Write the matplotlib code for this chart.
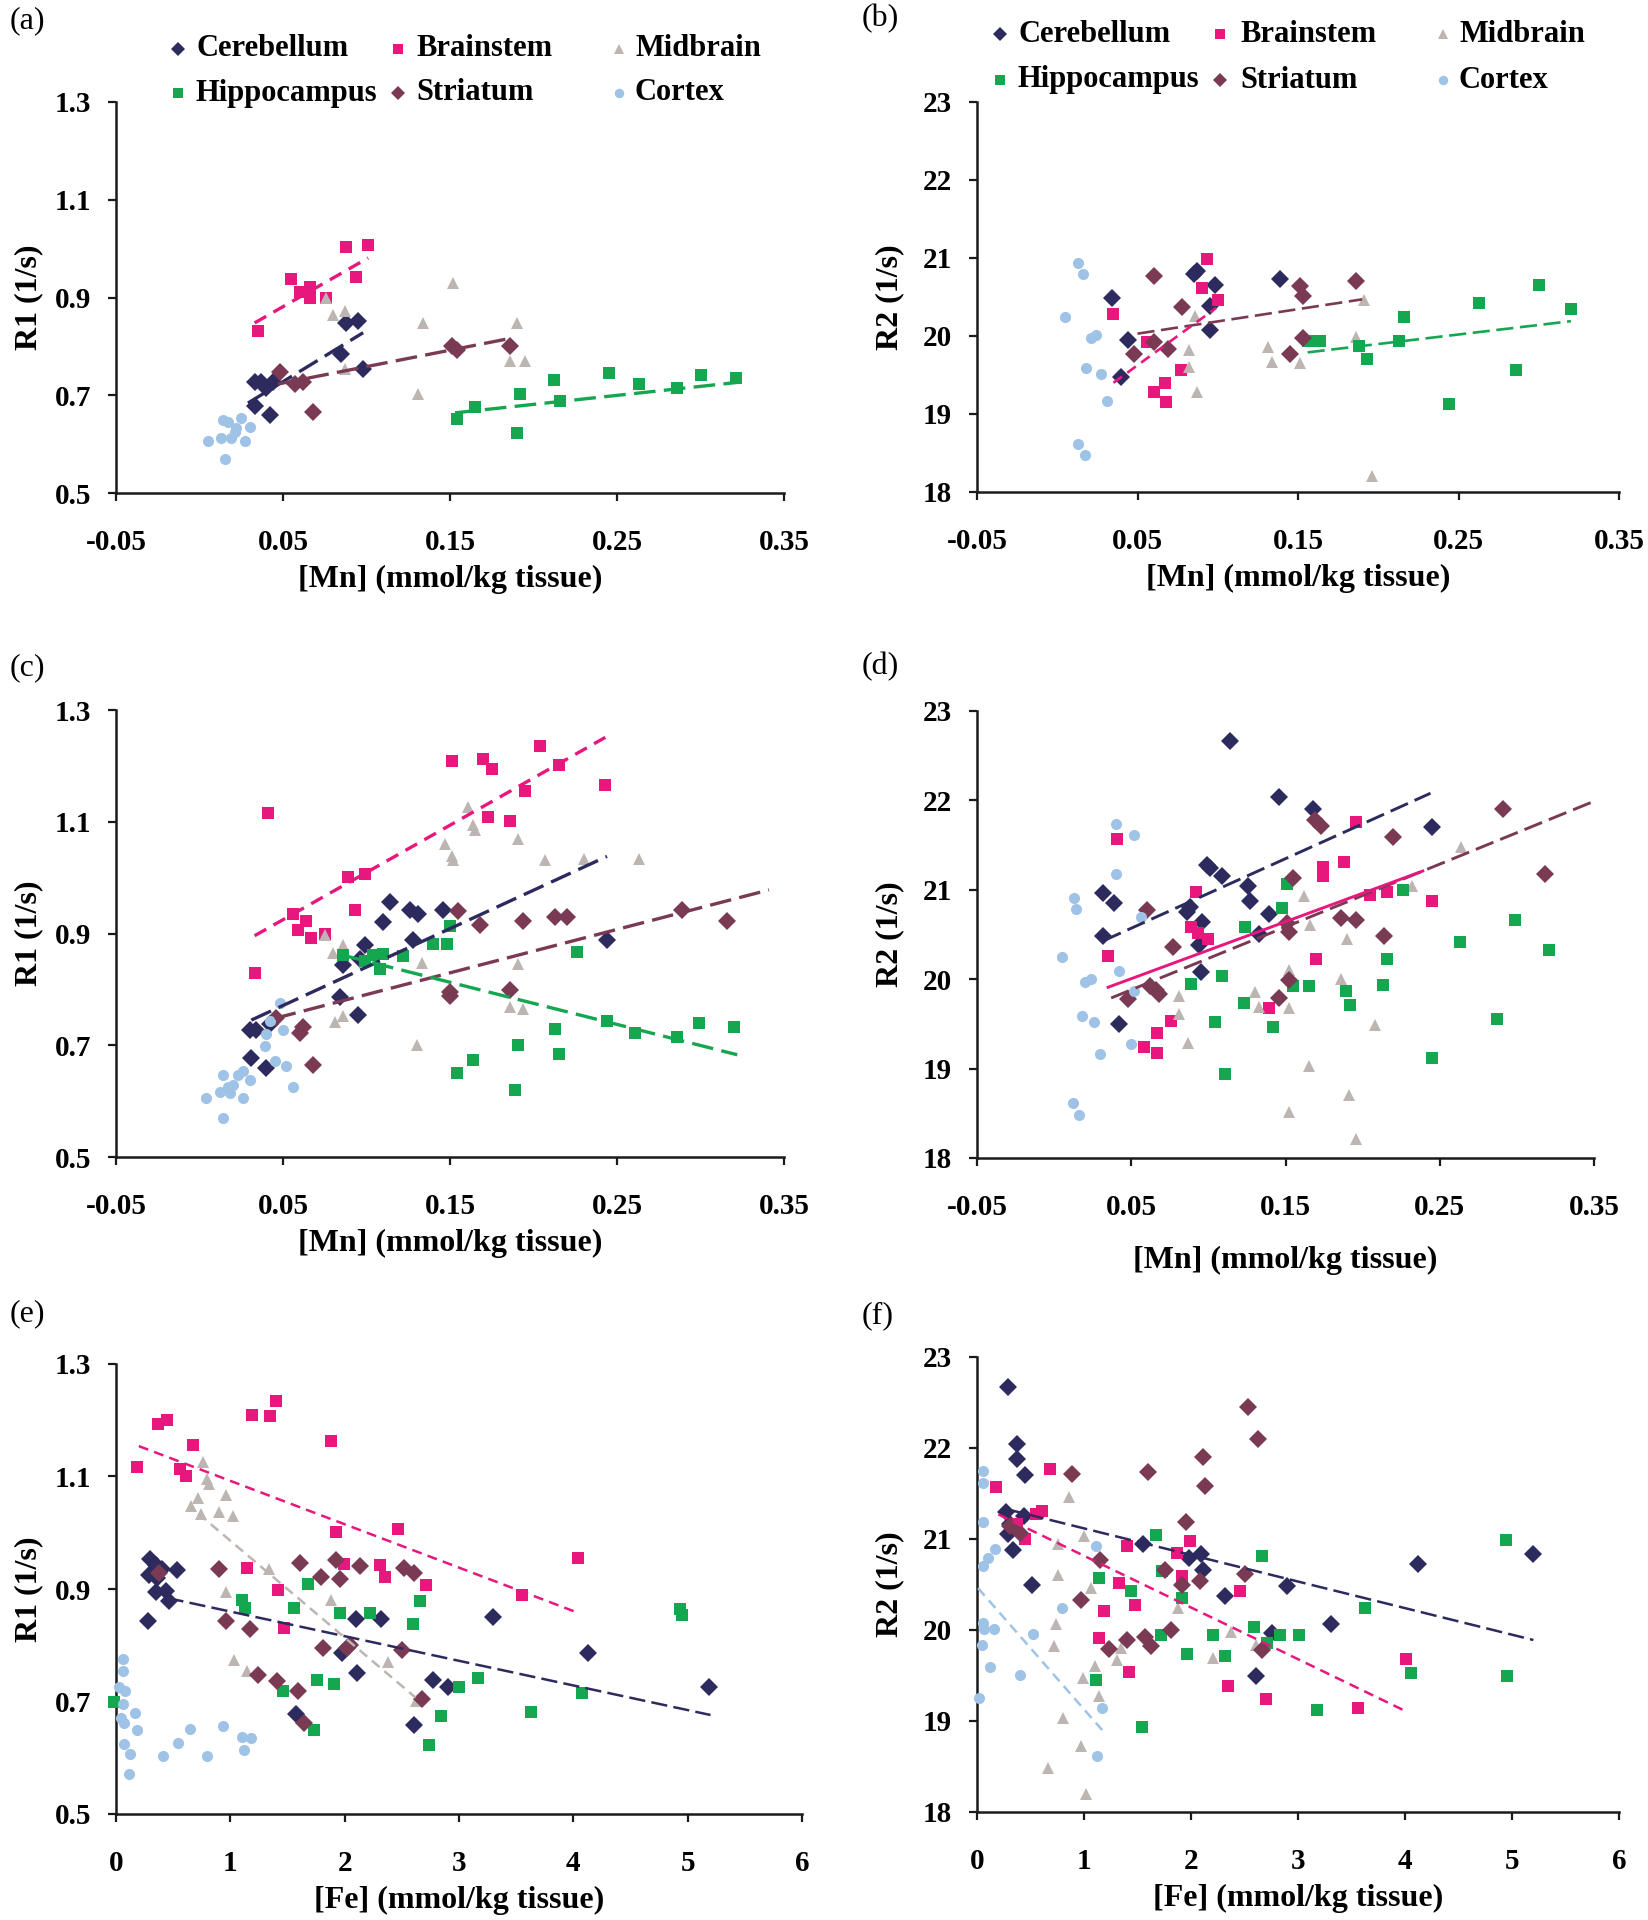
import matplotlib
matplotlib.use("Agg")
import matplotlib.pyplot as plt
from matplotlib.lines import Line2D

plt.rcParams['font.family'] = ['Liberation Serif', 'DejaVu Serif']
plt.rcParams['axes.unicode_minus'] = False

names = ["Cerebellum", "Brainstem", "Midbrain", "Hippocampus", "Striatum", "Cortex"]
colors = ["#2D2A5E", "#E8177E", "#BDB5B2", "#14A750", "#7B3A54", "#9FC3E7"]
markers = ["D", "s", "^", "s", "D", "o"]
msizes = [8.8, 9.2, 9.2, 9.2, 8.8, 8]

mn_ticks = [-0.05, 0.05, 0.15, 0.25, 0.35]
mn_labels = ["-0.05", "0.05", "0.15", "0.25", "0.35"]
fe_ticks = [0, 1, 2, 3, 4, 5, 6]
fe_labels = ["0", "1", "2", "3", "4", "5", "6"]
r1_ticks = [0.5, 0.7, 0.9, 1.1, 1.3]
r1_labels = ["0.5", "0.7", "0.9", "1.1", "1.3"]
r2_ticks = [18, 19, 20, 21, 22, 23]
r2_labels = ["18", "19", "20", "21", "22", "23"]

##### (a) R1 vs Mn #####
a_cer = [(0.033,0.727),(0.037,0.727),(0.044,0.727),(0.040,0.715),(0.033,0.678),(0.042,0.659),
         (0.085,0.785),(0.088,0.848),(0.095,0.852),(0.098,0.754)]
a_bra = [(0.035,0.831),(0.055,0.938),(0.060,0.911),(0.066,0.899),(0.066,0.922),(0.076,0.899),
         (0.088,1.004),(0.101,1.008),(0.094,0.942)]
a_mid = [(0.076,0.899),(0.080,0.864),(0.087,0.873),(0.087,0.754),(0.134,0.848),(0.131,0.703),
         (0.152,0.930),(0.190,0.848),(0.186,0.770),(0.195,0.770)]
a_hip = [(0.154,0.651),(0.165,0.676),(0.190,0.623),(0.192,0.703),(0.212,0.731),(0.216,0.688),
         (0.245,0.746),(0.263,0.723),(0.286,0.715),(0.300,0.742),(0.321,0.735)]
a_str = [(0.048,0.748),(0.057,0.723),(0.062,0.727),(0.068,0.666),(0.151,0.801),(0.154,0.793),(0.186,0.801)]
a_cor = [(0.005,0.606),(0.014,0.649),(0.013,0.613),(0.019,0.613),(0.022,0.633),(0.025,0.653),
         (0.027,0.606),(0.030,0.635),(0.015,0.570),(0.017,0.645),(0.021,0.625)]
a_fits = {"Brainstem": [(0.033,0.848),(0.101,0.981)], "Cerebellum": [(0.029,0.684),(0.098,0.828)],
          "Striatum": [(0.047,0.723),(0.187,0.817)], "Hippocampus": [(0.153,0.664),(0.324,0.727)]}

##### (b) R2 vs Mn #####
b_cer = [(0.044,19.95),(0.040,19.47),(0.034,20.49),(0.085,20.79),(0.087,20.83),(0.098,20.65),
         (0.095,20.38),(0.095,20.08),(0.139,20.73)]
b_bra = [(0.035,20.28),(0.056,19.92),(0.060,19.28),(0.067,19.40),(0.068,19.15),(0.077,19.56),
         (0.090,20.61),(0.093,20.99),(0.100,20.46)]
b_mid = [(0.082,19.60),(0.082,19.82),(0.086,20.26),(0.087,19.28),(0.131,19.86),(0.134,19.67),
         (0.151,19.65),(0.186,19.99),(0.191,20.46),(0.196,18.20)]
b_hip = [(0.156,19.93),(0.164,19.94),(0.188,19.87),(0.193,19.70),(0.213,19.94),(0.216,20.24),
         (0.244,19.13),(0.263,20.42),(0.286,19.56),(0.300,20.66),(0.320,20.35)]
b_str = [(0.048,19.77),(0.060,20.77),(0.060,19.92),(0.069,19.83),(0.078,20.37),(0.145,19.77),
         (0.151,20.64),(0.153,20.51),(0.153,19.98),(0.186,20.71)]
b_cor = [(0.005,20.24),(0.013,20.93),(0.016,20.79),(0.021,19.97),(0.024,20.01),(0.018,19.59),
         (0.027,19.51),(0.031,19.17),(0.013,18.62),(0.017,18.47)]
b_fits = {"Striatum": [(0.050,20.03),(0.190,20.47)], "Brainstem": [(0.035,19.40),(0.099,20.36)],
          "Hippocampus": [(0.156,19.79),(0.320,20.19)]}

##### (c) R1 vs Mn, all doses #####
c_cer = [(0.030,0.727),(0.034,0.727),(0.042,0.738),(0.031,0.678),(0.040,0.659),(0.084,0.787),
         (0.086,0.844),(0.095,0.755),(0.099,0.879),(0.096,0.854),(0.110,0.921),(0.114,0.956),
         (0.126,0.942),(0.131,0.935),(0.128,0.889),(0.146,0.942),(0.244,0.889)]
c_bra = [(0.033,0.829),(0.041,1.115),(0.056,0.935),(0.059,0.907),(0.064,0.923),(0.067,0.892),
         (0.075,0.899),(0.089,1.001),(0.099,1.006),(0.093,0.942),(0.151,1.208),(0.170,1.212),
         (0.175,1.194),(0.173,1.108),(0.186,1.101),(0.195,1.155),(0.204,1.235),(0.215,1.202),(0.243,1.166)]
c_mid = [(0.075,0.897),(0.080,0.865),(0.086,0.879),(0.081,0.741),(0.086,0.752),(0.133,0.847),
         (0.130,0.700),(0.147,1.060),(0.151,1.038),(0.152,1.031),(0.161,1.127),(0.164,1.094),
         (0.165,1.086),(0.191,1.069),(0.191,0.846),(0.186,0.769),(0.194,0.764),(0.207,1.031),
         (0.230,1.034),(0.263,1.034)]
c_hip = [(0.086,0.861),(0.099,0.851),(0.104,0.861),(0.108,0.836),(0.110,0.863),(0.122,0.860),
         (0.140,0.882),(0.148,0.881),(0.150,0.914),(0.226,0.867),(0.154,0.651),(0.164,0.674),
         (0.189,0.620),(0.191,0.701),(0.213,0.729),(0.215,0.685),(0.244,0.743),(0.261,0.722),
         (0.286,0.714),(0.299,0.740),(0.320,0.733)]
c_str = [(0.046,0.748),(0.060,0.722),(0.062,0.733),(0.068,0.664),(0.150,0.796),(0.150,0.789),
         (0.155,0.941),(0.168,0.916),(0.186,0.799),(0.194,0.923),(0.213,0.930),(0.220,0.930),
         (0.289,0.942),(0.316,0.923)]
c_cor = [(0.004,0.605),(0.014,0.646),(0.012,0.616),(0.017,0.625),(0.020,0.628),(0.023,0.646),
         (0.026,0.605),(0.026,0.654),(0.030,0.637),(0.014,0.570),(0.018,0.614),(0.039,0.699),
         (0.040,0.720),(0.042,0.743),(0.048,0.775),(0.050,0.727),(0.045,0.671),(0.052,0.662),(0.056,0.625)]
c_fits = {"Brainstem": [(0.033,0.896),(0.243,1.251)], "Cerebellum": [(0.031,0.745),(0.244,1.038)],
          "Striatum": [(0.045,0.748),(0.341,0.978)], "Hippocampus": [(0.086,0.861),(0.322,0.683)]}

##### (d) R2 vs Mn, all doses #####
d_cer = [(0.114,22.66),(0.146,22.04),(0.168,21.90),(0.245,21.70),(0.032,20.96),(0.039,20.85),
         (0.032,20.48),(0.042,19.50),(0.099,21.28),(0.101,21.24),(0.109,21.15),(0.126,21.04),
         (0.127,20.88),(0.139,20.73),(0.133,20.51),(0.086,20.75),(0.088,20.81),(0.096,20.64),
         (0.094,20.38),(0.095,20.08)]
d_bra = [(0.035,20.26),(0.041,21.57),(0.058,19.24),(0.067,19.40),(0.067,19.17),(0.076,19.53),
         (0.089,20.58),(0.093,20.52),(0.100,20.45),(0.092,20.97),(0.139,19.68),(0.170,20.23),
         (0.174,21.26),(0.174,21.15),(0.188,21.31),(0.196,21.76),(0.205,20.94),(0.216,20.98),(0.245,20.87)]
d_mid = [(0.081,19.81),(0.081,19.61),(0.087,19.29),(0.130,19.86),(0.133,19.69),(0.152,19.68),
         (0.152,20.10),(0.162,20.93),(0.166,20.61),(0.152,18.51),(0.165,19.03),(0.186,20.00),
         (0.190,20.45),(0.191,18.71),(0.196,18.21),(0.208,19.49),(0.232,21.04),(0.264,21.48)]
d_hip = [(0.089,19.95),(0.104,19.52),(0.109,20.04),(0.111,18.94),(0.123,19.73),(0.124,20.58),
         (0.142,19.46),(0.148,20.80),(0.151,21.06),(0.155,19.92),(0.165,19.92),(0.189,19.87),
         (0.192,19.71),(0.213,19.93),(0.216,20.23),(0.226,21.00),(0.245,19.12),(0.263,20.42),
         (0.287,19.55),(0.299,20.66),(0.321,20.33)]
d_str = [(0.060,20.77),(0.077,20.36),(0.048,19.78),(0.062,19.92),(0.066,19.88),(0.068,19.83),
         (0.155,21.13),(0.151,20.63),(0.152,20.53),(0.152,19.99),(0.146,19.79),(0.169,21.78),
         (0.173,21.71),(0.186,20.69),(0.196,20.66),(0.214,20.48),(0.220,21.59),(0.291,21.90),(0.318,21.18)]
d_cor = [(0.005,20.25),(0.013,20.91),(0.014,20.79),(0.020,19.97),(0.024,20.00),(0.018,19.59),
         (0.026,19.52),(0.030,19.16),(0.012,18.62),(0.016,18.48),(0.040,21.74),(0.052,21.61),
         (0.040,21.18),(0.056,20.70),(0.042,20.09),(0.052,19.87),(0.050,19.27)]
d_fits = {"Cerebellum": [(0.032,20.43),(0.244,22.08)], "Striatum": [(0.037,19.79),(0.350,21.99)],
          "Brainstem": [(0.035,19.91),(0.239,21.21)]}

##### (e) R1 vs Fe #####
e_cer = [(0.28,0.843),(0.30,0.954),(0.35,0.943),(0.29,0.925),(0.36,0.920),(0.40,0.936),(0.35,0.894),
         (0.46,0.879),(0.44,0.896),(0.53,0.934),(1.57,0.677),(1.98,0.787),(2.10,0.846),(2.11,0.751),
         (2.32,0.846),(2.61,0.659),(2.77,0.739),(2.90,0.725),(3.30,0.851),(4.13,0.787),(5.19,0.725)]
e_bra = [(0.18,1.116),(0.37,1.194),(0.45,1.201),(0.56,1.114),(0.61,1.100),(0.67,1.156),(1.19,1.209),
         (1.35,1.207),(1.40,1.234),(1.88,1.163),(1.92,1.002),(1.99,0.945),(1.15,0.937),(1.42,0.898),
         (1.47,0.830),(2.31,0.943),(2.35,0.921),(2.47,1.007),(2.71,0.907),(3.55,0.889),(4.04,0.955)]
e_mid = [(0.76,1.125),(0.80,1.096),(0.81,1.086),(0.72,1.061),(0.66,1.048),(0.74,1.034),(0.90,1.037),
         (0.96,1.068),(1.02,1.029),(0.96,0.894),(1.03,0.774),(1.15,0.754),(1.34,0.936),(1.88,0.880),
         (2.38,0.771),(2.62,0.701)]
e_hip = [(-0.02,0.699),(1.10,0.880),(1.13,0.866),(1.46,0.718),(1.56,0.866),(1.68,0.909),(1.73,0.649),
         (1.76,0.738),(1.91,0.732),(1.96,0.857),(2.22,0.857),(2.60,0.837),(2.66,0.879),(2.74,0.623),
         (2.84,0.675),(3.00,0.726),(3.17,0.741),(3.63,0.682),(4.08,0.716),(4.93,0.864),(4.95,0.854)]
e_str = [(0.38,0.929),(0.90,0.936),(0.96,0.843),(1.17,0.829),(1.24,0.748),(1.41,0.736),(1.59,0.718),
         (1.61,0.946),(1.64,0.662),(1.79,0.921),(1.81,0.796),(1.92,0.951),(1.96,0.918),(2.02,0.796),
         (2.05,0.801),(2.13,0.941),(2.52,0.937),(2.50,0.791),(2.61,0.929),(2.68,0.704)]
e_cor = [(0.06,0.775),(0.06,0.754),(0.03,0.725),(0.08,0.718),(0.06,0.696),(0.04,0.671),(0.07,0.661),
         (0.17,0.680),(0.18,0.649),(0.07,0.625),(0.12,0.607),(0.11,0.571),(0.41,0.604),(0.54,0.627),
         (0.65,0.651),(0.80,0.604),(0.94,0.657),(1.10,0.637),(1.18,0.636),(1.12,0.614)]
e_fits = {"Brainstem": [(0.20,1.154),(4.05,0.857)], "Midbrain": [(0.72,1.034),(2.62,0.707)],
          "Cerebellum": [(0.45,0.884),(5.20,0.676)]}

##### (f) R2 vs Fe #####
f_cer = [(0.29,22.67),(0.37,22.04),(0.37,21.88),(0.45,21.70),(0.27,21.30),(0.31,21.16),(0.29,21.05),
         (0.34,20.88),(0.44,21.25),(0.51,20.49),(1.55,20.95),(1.98,20.79),(2.09,20.83),(2.11,20.66),
         (2.32,20.37),(2.61,19.49),(2.76,19.97),(2.90,20.48),(3.31,20.07),(4.12,20.72),(5.20,20.84)]
f_bra = [(0.18,21.57),(0.68,21.77),(0.45,21.00),(0.37,21.16),(0.55,21.27),(0.61,21.31),(1.14,19.91),
         (1.19,20.21),(1.33,20.52),(1.40,20.92),(1.42,19.54),(1.48,20.28),(1.87,20.85),(1.92,20.59),
         (1.99,20.98),(2.46,20.43),(2.35,19.38),(2.70,19.24),(3.56,19.14),(4.01,19.68)]
f_mid = [(0.86,21.46),(1.00,21.03),(0.76,20.94),(0.76,20.60),(1.07,20.46),(0.74,20.07),(0.72,19.82),
         (0.80,19.03),(0.66,18.48),(0.97,18.72),(1.02,18.20),(1.10,19.60),(0.99,19.47),(1.14,19.28),
         (1.31,19.67),(1.35,19.80),(1.88,20.24),(2.21,19.69),(2.37,19.98),(2.61,19.83)]
f_hip = [(1.11,19.45),(1.14,20.57),(1.44,20.43),(1.54,18.93),(1.67,21.04),(1.72,19.94),(1.73,20.65),
         (1.92,20.35),(1.96,19.74),(2.21,19.94),(2.32,19.71),(2.59,20.03),(2.66,20.81),(2.71,19.86),
         (2.83,19.94),(3.01,19.94),(3.18,19.12),(3.63,20.24),(4.06,19.53),(4.94,20.99),(4.95,19.49)]
f_str = [(0.31,21.14),(0.40,21.07),(0.89,21.71),(0.97,20.33),(1.15,20.77),(1.23,19.79),(1.40,19.89),
         (1.57,19.92),(1.60,21.74),(1.63,19.82),(1.76,20.66),(1.81,20.00),(1.92,20.49),(1.95,21.19),
         (2.08,20.54),(2.11,21.90),(2.13,21.58),(2.53,22.45),(2.63,22.10),(2.50,20.62),(2.66,19.78)]
f_cor = [(0.06,21.75),(0.06,21.62),(0.06,21.19),(0.06,20.70),(0.10,20.79),(0.17,20.89),(0.06,20.08),
         (0.07,20.01),(0.05,19.84),(0.16,20.01),(0.12,19.59),(0.02,19.25),(0.40,19.51),(0.52,19.96),
         (0.79,20.24),(1.11,20.92),(1.17,19.14),(1.12,18.61)]
f_fits = {"Cerebellum": [(0.27,21.33),(5.20,19.89)], "Brainstem": [(0.20,21.27),(4.02,19.10)],
          "Cortex": [(0.01,20.46),(1.17,18.90)]}

W, H = 1648, 1920
fig = plt.figure(figsize=(W / 100, H / 100), dpi=100)


def box(l, t, r, b):
    return [l / W, 1 - b / H, (r - l) / W, (b - t) / H]


def panel(rect, groups, fits, xt, xl, yt, yl, xlabel, ylabel, xlabelpad, fit_lw, solid=()):
    ax = fig.add_axes(box(*rect))
    for i, pts in enumerate(groups):
        xs, ys = zip(*pts)
        ax.plot(xs, ys, linestyle="none", marker=markers[i], ms=msizes[i], color=colors[i],
                mew=0, zorder=3, clip_on=False)
    for nm, seg in fits.items():
        i = names.index(nm)
        xs, ys = zip(*seg)
        if nm in solid:
            ax.plot(xs, ys, color=colors[i], lw=fit_lw, zorder=4)
        else:
            dash = (4, 2.5) if nm in ("Brainstem", "Cortex", "Midbrain") else (6.5, 2.5)
            ax.plot(xs, ys, color=colors[i], lw=fit_lw, dashes=dash, zorder=4)
    ax.set_xlim(xt[0], xt[-1])
    ax.set_ylim(yt[0], yt[-1])
    ax.set_xticks(xt)
    ax.set_xticklabels(xl)
    ax.set_yticks(yt)
    ax.set_yticklabels(yl)
    for s in ["top", "right"]:
        ax.spines[s].set_visible(False)
    for s in ["left", "bottom"]:
        ax.spines[s].set_linewidth(1.8)
        ax.spines[s].set_color("#1a1a1a")
    ax.tick_params(direction="out", length=6, width=1.6, color="#1a1a1a", labelsize=21)
    ax.tick_params(axis="x", pad=20)
    ax.tick_params(axis="y", pad=12)
    for lab in ax.get_xticklabels() + ax.get_yticklabels():
        lab.set_fontweight("bold")
    ax.set_xlabel(xlabel, fontsize=23, fontweight="bold", labelpad=xlabelpad)
    ax.set_ylabel(ylabel, fontsize=23, fontweight="bold")
    ax.yaxis.set_label_coords(-73 / (rect[2] - rect[0]), 0.5)
    return ax


def legend_rows(xs_marker, xs_text, y_rows):
    order = [[0, 1, 2], [3, 4, 5]]
    for r, row in enumerate(order):
        for c, i in enumerate(row):
            fig.add_artist(Line2D([xs_marker[c] / W], [1 - y_rows[r] / H], transform=fig.transFigure,
                                  marker=markers[i], ms=msizes[i] * 0.85, color=colors[i], mew=0,
                                  linestyle="none"))
            fig.text(xs_text[c] / W, 1 - y_rows[r] / H, names[i], fontsize=22, fontweight="bold",
                     va="center", ha="left")


panel((116, 102, 784, 493), [a_cer, a_bra, a_mid, a_hip, a_str, a_cor], a_fits,
      mn_ticks, mn_labels, r1_ticks, r1_labels, "[Mn] (mmol/kg tissue)", "R1 (1/s)", 6, 2.4)
panel((977, 102, 1619, 492), [b_cer, b_bra, b_mid, b_hip, b_str, b_cor], b_fits,
      mn_ticks, mn_labels, r2_ticks, r2_labels, "[Mn] (mmol/kg tissue)", "R2 (1/s)", 6, 1.9)
panel((116, 710, 784, 1157), [c_cer, c_bra, c_mid, c_hip, c_str, c_cor], c_fits,
      mn_ticks, mn_labels, r1_ticks, r1_labels, "[Mn] (mmol/kg tissue)", "R1 (1/s)", 6, 2.4)
panel((977, 711, 1594, 1158), [d_cer, d_bra, d_mid, d_hip, d_str, d_cor], d_fits,
      mn_ticks, mn_labels, r2_ticks, r2_labels, "[Mn] (mmol/kg tissue)", "R2 (1/s)", 18, 2.1,
      solid=("Brainstem",))
panel((116, 1364, 802, 1814), [e_cer, e_bra, e_mid, e_hip, e_str, e_cor], e_fits,
      fe_ticks, fe_labels, r1_ticks, r1_labels, "[Fe] (mmol/kg tissue)", "R1 (1/s)", 6, 1.8)
panel((977, 1357, 1619, 1812), [f_cer, f_bra, f_mid, f_hip, f_str, f_cor], f_fits,
      fe_ticks, fe_labels, r2_ticks, r2_labels, "[Fe] (mmol/kg tissue)", "R2 (1/s)", 6, 1.8)

legend_rows([178, 398, 619], [196, 416, 635], [49, 93])
legend_rows([1000, 1220, 1443], [1018, 1240, 1459], [34, 80])

for lbl, x, y in [("(a)", 10, 21), ("(b)", 862, 19), ("(c)", 10, 668),
                  ("(d)", 862, 667), ("(e)", 10, 1314), ("(f)", 862, 1316)]:
    fig.text(x / W, 1 - y / H, lbl, fontsize=23, va="center", ha="left")

plt.savefig("out.png", dpi=100)
